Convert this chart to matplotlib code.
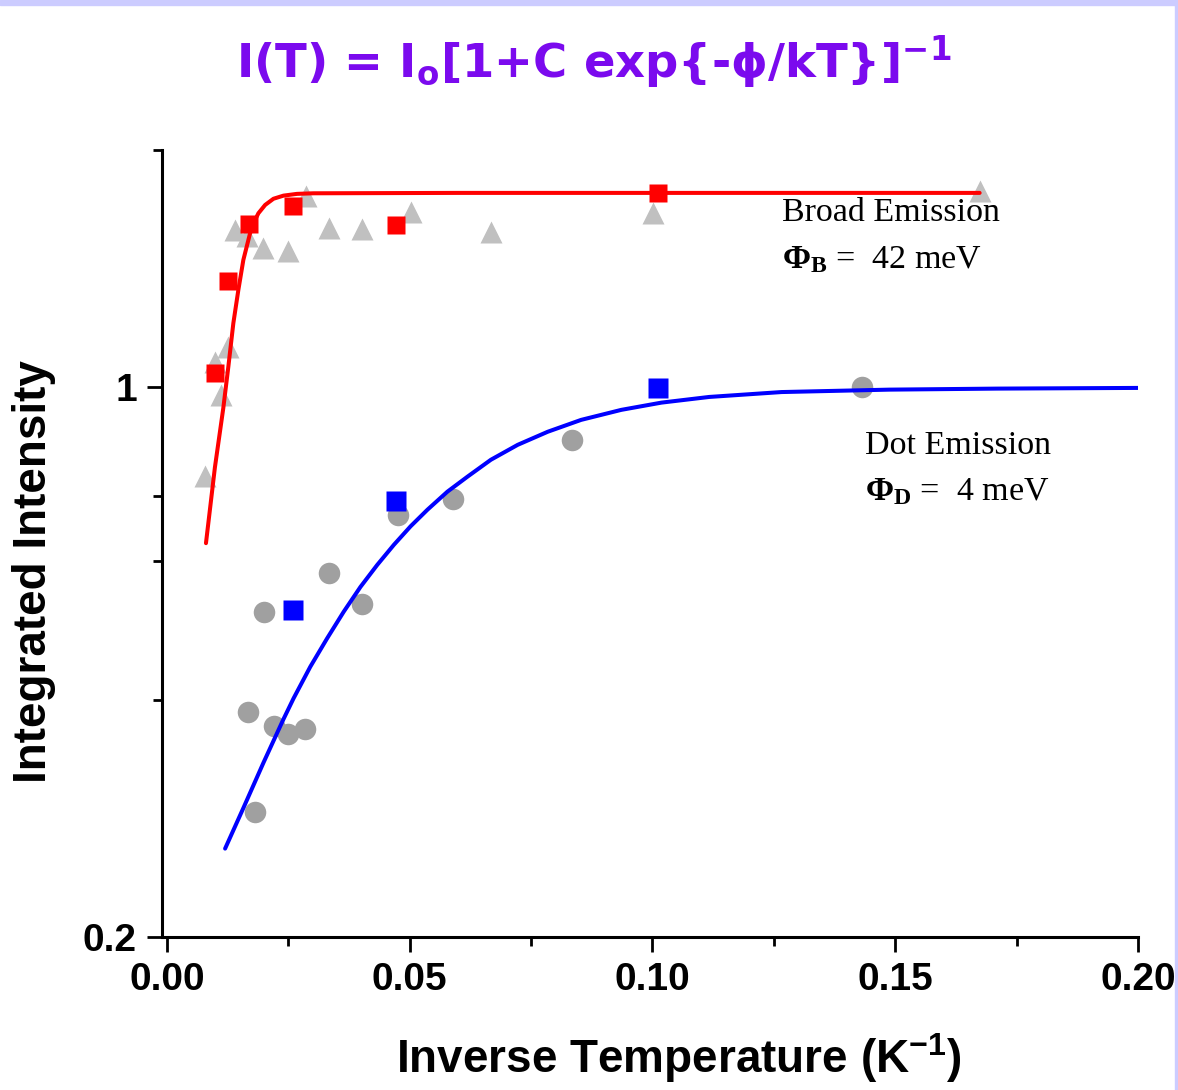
import matplotlib
matplotlib.use("Agg")
import matplotlib.pyplot as plt
from matplotlib.patches import Rectangle
from matplotlib.ticker import FixedLocator, NullFormatter

plt.rcParams["mathtext.fontset"] = "custom"
plt.rcParams["mathtext.rm"] = "Liberation Serif"
plt.rcParams["mathtext.bf"] = "Liberation Serif:bold"
plt.rcParams["mathtext.it"] = "Liberation Serif:italic"

# broad emission: all temperatures (grey triangles) and selected spectra (red squares)
broad_tri_x = [0.0079, 0.0099, 0.0112, 0.0126, 0.0140, 0.0165, 0.0198, 0.0249,
               0.0286, 0.0333, 0.0401, 0.0502, 0.0667, 0.1002, 0.1674]
broad_tri_y = [0.771, 1.076, 0.977, 1.124, 1.583, 1.555, 1.500, 1.490,
               1.750, 1.592, 1.588, 1.669, 1.574, 1.664, 1.774]
broad_sq_x = [0.0099, 0.0125, 0.0170, 0.0260, 0.0471, 0.1012]
broad_sq_y = [1.040, 1.364, 1.611, 1.700, 1.607, 1.764]

# dot emission: all temperatures (grey circles) and selected spectra (blue squares)
dot_circ_x = [0.0167, 0.0182, 0.0200, 0.0221, 0.0250, 0.0285, 0.0335,
              0.0401, 0.0477, 0.0589, 0.0835, 0.1432]
dot_circ_y = [0.386, 0.288, 0.518, 0.371, 0.362, 0.367, 0.580,
              0.530, 0.688, 0.721, 0.856, 1.000]
dot_sq_x = [0.0260, 0.0471, 0.1012]
dot_sq_y = [0.521, 0.716, 0.998]

# fitted curves I(T) = Io[1 + C exp(-phi/kT)]^-1
broad_fit_x = [0.00806, 0.0099, 0.01163, 0.01267, 0.0137, 0.01473,
               0.01576, 0.01715, 0.01783, 0.01886, 0.02025, 0.02196, 0.02403,
               0.0268, 0.0302, 0.0600, 0.1000, 0.1674]
broad_fit_y = [0.633, 0.790, 0.940, 1.061, 1.205, 1.328,
               1.450, 1.568, 1.614, 1.662, 1.703, 1.734, 1.750,
               1.759, 1.762, 1.764, 1.764, 1.764]
dot_fit_x = [0.0120, 0.0158, 0.0199, 0.0240, 0.0261, 0.02955, 0.0330, 0.03643,
             0.03988, 0.04333, 0.04676, 0.0502, 0.05366, 0.05779, 0.06192,
             0.06674, 0.07225, 0.07845, 0.08533, 0.0936, 0.10186, 0.1117,
             0.1266, 0.1488, 0.1711, 0.2000]
dot_fit_y = [0.259, 0.292, 0.333, 0.378, 0.402, 0.441, 0.479, 0.518,
             0.557, 0.594, 0.630, 0.665, 0.698, 0.736, 0.769,
             0.808, 0.844, 0.877, 0.908, 0.935, 0.955, 0.971,
             0.985, 0.992, 0.995, 0.997]

x_ticks = [0.0, 0.05, 0.10, 0.15, 0.20]
x_labels = ["0.00", "0.05", "0.10", "0.15", "0.20"]
x_minor = [0.025, 0.075, 0.125, 0.175]
y_major = [0.2, 1.0]
y_labels = ["0.2", "1"]
y_minor = [0.4, 0.6, 0.726, 2.0]

fig = plt.figure(figsize=(11.78, 10.90), dpi=100)
ax = fig.add_axes([0.1375, 0.1404, 0.8285, 0.722])

ax.plot(broad_tri_x, broad_tri_y, "^", color="#C0C0C0", ms=16, mec="none", zorder=2)
ax.plot(dot_circ_x, dot_circ_y, "o", color="#A0A0A0", ms=15.5, mec="none", zorder=2)
ax.plot(broad_fit_x, broad_fit_y, color="#FF0000", lw=2.9, solid_capstyle="round",
        solid_joinstyle="round", zorder=3)
ax.plot(dot_fit_x, dot_fit_y, color="#0000FF", lw=2.9, solid_capstyle="round",
        solid_joinstyle="round", zorder=3)
ax.plot(broad_sq_x, broad_sq_y, "s", color="#FF0000", ms=13.5, mec="none", zorder=4)
ax.plot(dot_sq_x, dot_sq_y, "s", color="#0000FF", ms=14.5, mec="none", zorder=4)

ax.set_yscale("log")
ax.set_xlim(-0.001, 0.2)
ax.set_ylim(0.2, 2.0)

ax.xaxis.set_major_locator(FixedLocator(x_ticks))
ax.set_xticklabels(x_labels)
ax.xaxis.set_minor_locator(FixedLocator(x_minor))
ax.yaxis.set_major_locator(FixedLocator(y_major))
ax.set_yticklabels(y_labels)
ax.yaxis.set_minor_locator(FixedLocator(y_minor))
ax.yaxis.set_minor_formatter(NullFormatter())

for side in ["top", "right"]:
    ax.spines[side].set_visible(False)
for side in ["left", "bottom"]:
    ax.spines[side].set_linewidth(2.2)

ax.tick_params(axis="both", which="major", length=11, width=2.0, pad=7,
               direction="out", labelsize=28)
ax.tick_params(axis="both", which="minor", length=6.5, width=2.0, direction="out")
for lab in ax.get_xticklabels() + ax.get_yticklabels():
    lab.set_fontfamily("Liberation Sans")
    lab.set_fontweight("bold")

ax.set_xlabel("Inverse Temperature (K$\\mathregular{^{-1}}$)", fontsize=33,
              fontweight="bold", family="Liberation Sans", va="center")
ax.xaxis.set_label_coords(0.53, -0.154)
ax.set_ylabel("Integrated Intensity", fontsize=33, fontweight="bold",
              family="Liberation Sans", va="center")
ax.yaxis.set_label_coords(-0.131, 0.464)

serif = dict(family="Liberation Serif", fontsize=24.5, va="center", ha="left")
ax.text(0.1267, 1.664, "Broad Emission", **serif)
ax.text(0.1267, 1.450, r"$\mathbf{\Phi_B}$ =  42 meV", **serif)
ax.text(0.1438, 0.841, "Dot Emission", **serif)
ax.text(0.1438, 0.736, r"$\mathbf{\Phi_D}$ =  4 meV", **serif)

fig.text(0.504, 0.943, "I(T) = I$\\mathregular{_o}$[1+C exp{-ϕ/kT}]$\\mathregular{^{-1}}$",
         fontsize=33.5, fontweight="bold", family="DejaVu Sans", color="#7B0AEE",
         ha="center", va="center")

# lavender slide frame
fig.patches.append(Rectangle((0, 1 - 5 / 1090), 1, 5 / 1090, transform=fig.transFigure,
                             color="#CCCCFF", zorder=0))
fig.patches.append(Rectangle((1 - 3 / 1178, 0), 3 / 1178, 1, transform=fig.transFigure,
                             color="#CCCCFF", zorder=0))

fig.savefig("out.png", dpi=100)
